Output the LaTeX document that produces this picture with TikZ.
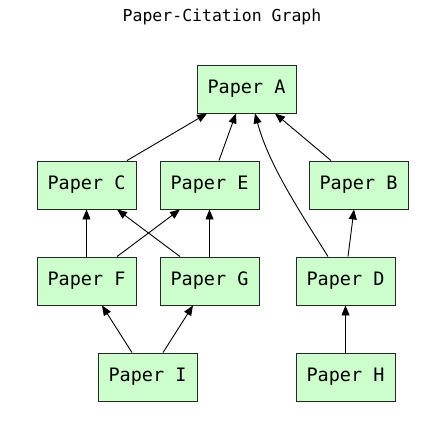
\documentclass[tikz,border=0pt]{standalone}
\usepackage{fontspec}
\setmonofont{DejaVu Sans Mono}
\usetikzlibrary{arrows.meta}
\begin{document}
\begin{tikzpicture}[x=1pt,y=1pt,
  paper/.style={rectangle, draw=black!85, line width=0.9pt, fill=green!20, minimum width=99pt, minimum height=48pt, inner sep=0pt, font=\ttfamily\fontsize{18.5}{20}\selectfont},
  cite/.style={draw=black, line width=0.9pt, -{Triangle[length=10pt,width=8pt]}}]
\useasboundingbox (0,0) rectangle (445,-439);
\node[font=\ttfamily\fontsize{16.5}{18}\selectfont] (title) at (222,-17) {Paper-Citation Graph};
\node[paper] (A) at (246.5,-89) {Paper A};
\node[paper] (C) at (86.5,-185) {Paper C};
\node[paper] (E) at (209.5,-185) {Paper E};
\node[paper] (B) at (358.5,-185) {Paper B};
\node[paper] (F) at (86.5,-281) {Paper F};
\node[paper] (G) at (209.5,-281) {Paper G};
\node[paper] (D) at (345.5,-281) {Paper D};
\node[paper] (I) at (147.5,-377) {Paper I};
\node[paper] (H) at (345.5,-377) {Paper H};
\draw[cite] ([xshift=40.5pt]C.north) -- ([xshift=-39.5pt]A.south);
\draw[cite] ([xshift=9.5pt]E.north) -- ([xshift=-10.5pt]A.south);
\draw[cite] ([xshift=-27.5pt]B.north) -- ([xshift=28.5pt]A.south);
\draw[cite] ([xshift=-17.5pt]D.north) .. controls +(-28,45) and +(14,-52) .. ([xshift=8.5pt]A.south);
\draw[cite] (F.north) -- (C.south);
\draw[cite] ([xshift=-29.5pt]G.north) -- ([xshift=30.5pt]C.south);
\draw[cite] ([xshift=30.5pt]F.north) -- ([xshift=-29.5pt]E.south);
\draw[cite] (G.north) -- (E.south);
\draw[cite] ([xshift=2.5pt]D.north) -- ([xshift=-4.5pt]B.south);
\draw[cite] ([xshift=-15.5pt]I.north) -- ([xshift=15.5pt]F.south);
\draw[cite] ([xshift=15.5pt]I.north) -- ([xshift=-16.5pt]G.south);
\draw[cite] (H.north) -- (D.south);
\end{tikzpicture}
\end{document}
